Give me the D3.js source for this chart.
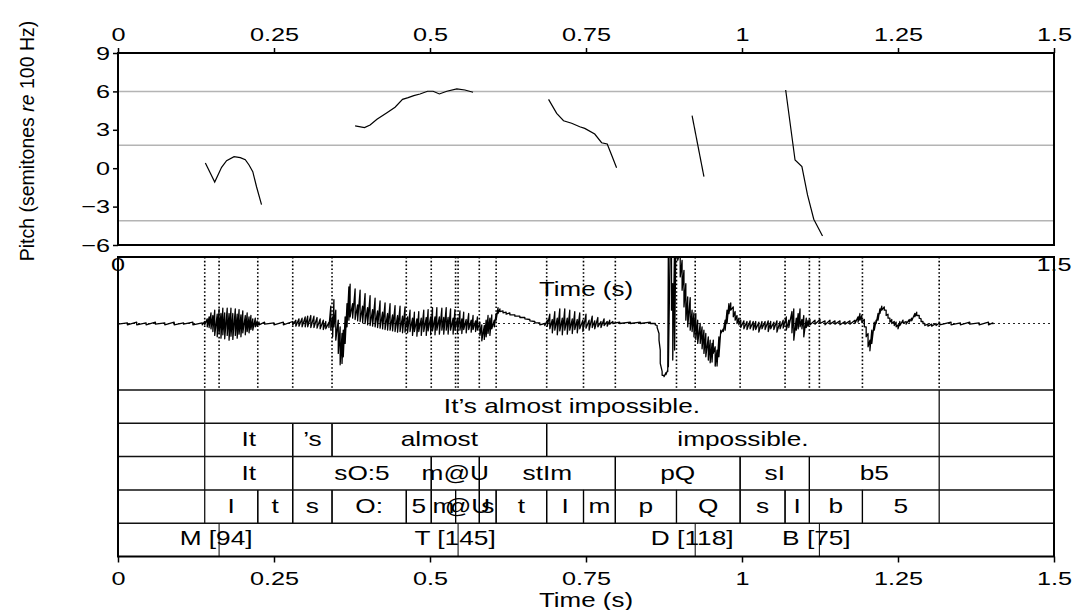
<!DOCTYPE html>
<html>
<head>
<meta charset="utf-8">
<script src="https://cdn.jsdelivr.net/npm/d3@7"></script>
<style>
    body { margin: 0; background: #fff; }
    svg { display: block; font-family: "Liberation Sans", Arial, sans-serif; }
</style>
</head>
<body>
<svg id="chart" width="1074" height="610"></svg>
<script>
// ---- data ----
var timeTicks = [0, 0.25, 0.5, 0.75, 1, 1.25, 1.5];
var pitchTicks = [-6, -3, 0, 3, 6, 9];
var pitchRefs = [6, 1.8, -4.1];

// pitch contour pieces, [time s, semitones re 100 Hz]
var pitchSeg1 = [[0.140, 0.41], [0.155, -1.08], [0.166, 0.07], [0.174, 0.59], [0.186, 0.90], [0.196, 0.82], [0.204, 0.66], [0.210, 0.25], [0.216, -0.27], [0.222, -1.45], [0.230, -2.85]];
var pitchSeg2 = [[0.380, 3.30], [0.395, 3.17], [0.404, 3.38], [0.415, 3.82], [0.431, 4.34], [0.444, 4.76], [0.456, 5.38], [0.465, 5.51], [0.474, 5.67], [0.484, 5.80], [0.496, 6.01], [0.505, 6.01], [0.515, 5.80], [0.527, 6.01], [0.543, 6.19], [0.556, 6.11], [0.569, 5.93]];
var pitchSeg3 = [[0.690, 5.38], [0.703, 4.29], [0.714, 3.71], [0.727, 3.51], [0.740, 3.24], [0.748, 3.11], [0.764, 2.67], [0.775, 1.99], [0.784, 1.89], [0.791, 1.03], [0.799, 0.04]];
var pitchSeg4 = [[0.920, 4.10], [0.939, -0.66]];
var pitchSeg5 = [[1.070, 6.11], [1.085, 0.64], [1.096, 0.12], [1.105, -2.09], [1.115, -3.99], [1.129, -5.30]];

// waveform envelope, [time s, high, low] in relative amplitude
var wave = [
    [0.000, 0.02, -0.01], [0.015, 0.01, -0.02], [0.030, 0.02, -0.02], [0.045, 0.01, -0.02], [0.060, 0.02, -0.01],
    [0.075, 0.01, -0.02], [0.090, 0.02, -0.02], [0.105, 0.01, -0.01], [0.120, 0.02, -0.02], [0.135, 0.01, -0.02],
    [0.139, 0.03, -0.02], [0.143, 0.07, -0.05], [0.146, 0.10, -0.06], [0.149, 0.16, -0.08], [0.152, 0.12, -0.12],
    [0.155, 0.20, -0.18], [0.159, 0.14, -0.20], [0.162, 0.22, -0.15], [0.165, 0.15, -0.22], [0.168, 0.23, -0.17],
    [0.171, 0.16, -0.23], [0.175, 0.23, -0.18], [0.178, 0.15, -0.25], [0.181, 0.23, -0.19], [0.184, 0.15, -0.24],
    [0.188, 0.22, -0.18], [0.191, 0.14, -0.22], [0.194, 0.21, -0.16], [0.197, 0.13, -0.20], [0.200, 0.19, -0.14],
    [0.204, 0.12, -0.17], [0.207, 0.16, -0.12], [0.210, 0.10, -0.14], [0.213, 0.12, -0.09], [0.216, 0.07, -0.10],
    [0.220, 0.08, -0.05], [0.223, 0.04, -0.04], [0.226, 0.02, -0.02], [0.235, 0.02, -0.01], [0.250, 0.01, -0.02],
    [0.265, 0.02, -0.02], [0.280, 0.03, -0.02], [0.285, 0.05, -0.04], [0.290, 0.07, -0.04], [0.295, 0.08, -0.05],
    [0.300, 0.10, -0.05], [0.304, 0.11, -0.05], [0.309, 0.12, -0.06], [0.314, 0.11, -0.06], [0.319, 0.09, -0.07],
    [0.324, 0.07, -0.08], [0.329, 0.05, -0.09], [0.333, 0.03, -0.08], [0.338, 0.02, -0.06],
    [0.341, 0.26, -0.10], [0.344, 0.10, -0.20], [0.346, 0.36, -0.05], [0.349, 0.20, -0.25], [0.353, 0.05, -0.45],
    [0.356, -0.05, -0.62], [0.359, -0.15, -0.60], [0.361, -0.10, -0.50], [0.364, 0.10, -0.30], [0.367, 0.30, -0.05],
    [0.370, 0.55, 0.05], [0.372, 0.59, 0.10], [0.376, 0.30, 0.08], [0.380, 0.52, 0.06], [0.384, 0.28, 0.04],
    [0.388, 0.50, 0.03], [0.392, 0.26, 0.01], [0.396, 0.45, 0.00], [0.400, 0.24, -0.02], [0.404, 0.42, -0.03],
    [0.408, 0.21, -0.04], [0.412, 0.38, -0.05], [0.416, 0.19, -0.06], [0.420, 0.34, -0.07], [0.424, 0.17, -0.08],
    [0.428, 0.31, -0.09], [0.432, 0.15, -0.10], [0.436, 0.30, -0.10], [0.440, 0.13, -0.11], [0.444, 0.27, -0.12],
    [0.448, 0.12, -0.13], [0.452, 0.26, -0.12], [0.456, 0.11, -0.14], [0.460, 0.25, -0.13], [0.464, 0.10, -0.14],
    [0.468, 0.20, -0.12], [0.472, 0.08, -0.18], [0.475, 0.17, -0.12], [0.479, 0.07, -0.19], [0.482, 0.18, -0.12],
    [0.486, 0.08, -0.18], [0.490, 0.20, -0.12], [0.494, 0.09, -0.18], [0.497, 0.21, -0.11], [0.501, 0.10, -0.17],
    [0.504, 0.24, -0.11], [0.508, 0.10, -0.17], [0.511, 0.24, -0.10], [0.515, 0.10, -0.16], [0.519, 0.23, -0.10],
    [0.522, 0.09, -0.16], [0.526, 0.24, -0.10], [0.529, 0.09, -0.16], [0.533, 0.22, -0.10], [0.537, 0.08, -0.16],
    [0.540, 0.21, -0.10], [0.544, 0.08, -0.15], [0.548, 0.19, -0.10], [0.551, 0.07, -0.15], [0.554, 0.17, -0.09],
    [0.558, 0.06, -0.14], [0.562, 0.15, -0.09], [0.566, 0.05, -0.13], [0.569, 0.12, -0.09], [0.573, 0.04, -0.12],
    [0.576, 0.10, -0.10], [0.580, 0.02, -0.18], [0.583, -0.02, -0.26], [0.587, -0.03, -0.24], [0.590, 0.05, -0.20],
    [0.593, 0.12, -0.15], [0.596, 0.08, -0.18], [0.599, 0.13, -0.08], [0.603, 0.05, -0.05], [0.606, 0.15, 0.05],
    [0.609, 0.24, 0.15], [0.612, 0.22, 0.18], [0.617, 0.19, 0.16], [0.622, 0.17, 0.14], [0.628, 0.16, 0.13],
    [0.636, 0.13, 0.11], [0.644, 0.11, 0.09], [0.652, 0.09, 0.07], [0.660, 0.06, 0.04], [0.668, 0.03, 0.01],
    [0.676, 0.01, -0.02], [0.684, 0.00, -0.03],
    [0.688, 0.05, -0.04], [0.692, 0.14, -0.08], [0.696, 0.06, -0.14], [0.700, 0.18, -0.10], [0.704, 0.08, -0.17],
    [0.708, 0.22, -0.11], [0.712, 0.08, -0.17], [0.716, 0.22, -0.10], [0.720, 0.08, -0.16], [0.724, 0.20, -0.10],
    [0.728, 0.07, -0.15], [0.732, 0.18, -0.09], [0.736, 0.06, -0.14], [0.740, 0.16, -0.08], [0.745, 0.05, -0.12],
    [0.750, 0.14, -0.07], [0.755, 0.05, -0.10], [0.760, 0.11, -0.06], [0.764, 0.04, -0.08], [0.769, 0.09, -0.05],
    [0.774, 0.03, -0.06], [0.779, 0.07, -0.03], [0.784, 0.03, -0.04], [0.788, 0.05, -0.01], [0.793, 0.03, 0.00],
    [0.804, 0.02, 0.00], [0.821, 0.02, 0.00], [0.837, 0.02, 0.00], [0.853, 0.02, 0.00], [0.861, 0.00, -0.02],
    [0.864, -0.03, -0.06], [0.867, -0.15, -0.25], [0.869, -0.40, -0.60], [0.872, -0.72, -0.78], [0.875, -0.78, -0.80],
    [0.878, -0.74, -0.77], [0.881, -0.70, -0.72], [0.882, 1.20, -0.65], [0.885, 1.20, 1.00], [0.887, 1.20, 0.20],
    [0.889, 0.60, -0.55], [0.892, 1.20, -0.40], [0.894, 1.20, 1.00], [0.897, 1.20, 0.95], [0.901, 1.10, 0.70],
    [0.904, 0.95, 0.50], [0.907, 0.80, 0.25], [0.910, 0.60, 0.05], [0.913, 0.40, -0.05], [0.917, 0.39, -0.10],
    [0.920, 0.20, -0.12], [0.923, 0.16, -0.20], [0.926, 0.15, -0.24], [0.929, 0.05, -0.30], [0.933, 0.00, -0.30],
    [0.936, -0.05, -0.38], [0.939, -0.10, -0.45], [0.942, -0.15, -0.50], [0.946, -0.20, -0.55], [0.949, -0.25, -0.59],
    [0.952, -0.30, -0.58], [0.954, -0.25, -0.45], [0.957, -0.35, -0.64], [0.960, -0.40, -0.64], [0.963, -0.20, -0.50],
    [0.966, -0.10, -0.15], [0.970, -0.08, -0.12], [0.973, 0.05, -0.10], [0.976, 0.20, 0.00], [0.979, 0.30, 0.15],
    [0.982, 0.31, 0.20], [0.986, 0.25, 0.10], [0.989, 0.18, 0.05], [0.992, 0.12, 0.00], [0.995, 0.08, -0.02],
    [0.998, 0.05, -0.06], [1.003, 0.04, -0.08], [1.008, 0.03, -0.09], [1.013, 0.04, -0.08], [1.018, 0.03, -0.10],
    [1.022, 0.03, -0.09], [1.027, 0.02, -0.13], [1.032, 0.03, -0.08], [1.037, 0.03, -0.09], [1.042, 0.04, -0.12],
    [1.046, 0.03, -0.08], [1.051, 0.02, -0.09], [1.056, 0.04, -0.13], [1.061, 0.03, -0.08], [1.066, 0.05, -0.07],
    [1.071, 0.10, -0.10], [1.075, 0.05, -0.06], [1.080, 0.18, -0.14], [1.083, 0.22, -0.25], [1.087, 0.08, -0.10],
    [1.090, 0.15, -0.08], [1.093, 0.22, -0.05], [1.096, 0.06, -0.08], [1.099, 0.12, -0.20], [1.103, 0.08, -0.06],
    [1.106, 0.05, -0.04], [1.109, 0.06, -0.02], [1.117, 0.05, -0.01], [1.125, 0.06, 0.00], [1.133, 0.04, -0.02],
    [1.141, 0.05, -0.01], [1.149, 0.04, -0.01], [1.157, 0.04, -0.02], [1.165, 0.03, -0.01], [1.173, 0.04, -0.01],
    [1.181, 0.05, 0.00], [1.186, 0.10, 0.02], [1.189, 0.15, 0.05], [1.192, 0.12, 0.02], [1.196, 0.06, -0.05],
    [1.199, -0.05, -0.20], [1.202, -0.15, -0.35], [1.205, -0.25, -0.41], [1.208, -0.10, -0.30], [1.212, 0.02, -0.10],
    [1.215, 0.05, 0.00], [1.218, 0.15, 0.05], [1.221, 0.22, 0.15], [1.224, 0.26, 0.20], [1.228, 0.25, 0.20],
    [1.231, 0.20, 0.12], [1.234, 0.14, 0.08], [1.237, 0.08, 0.02], [1.240, 0.06, 0.00], [1.244, 0.03, -0.03],
    [1.247, 0.02, -0.05], [1.250, -0.02, -0.08], [1.253, 0.03, -0.03], [1.258, 0.05, 0.01], [1.263, 0.03, -0.01],
    [1.268, 0.06, 0.02], [1.272, 0.08, 0.04], [1.277, 0.15, 0.10], [1.280, 0.17, 0.12], [1.284, 0.12, 0.08],
    [1.287, 0.07, 0.03], [1.290, 0.03, 0.00], [1.293, 0.00, -0.03], [1.298, -0.01, -0.04], [1.304, -0.01, -0.04],
    [1.311, 0.00, -0.03], [1.317, 0.01, -0.02], [1.335, 0.02, -0.02], [1.350, 0.01, -0.02], [1.365, 0.02, -0.01],
    [1.380, 0.01, -0.02], [1.395, 0.02, -0.02], [1.402, 0.01, -0.01]
];

// annotation tiers, [start s, end s, label]
var sentenceTier = [[0.139, 1.316, "It\u2019s almost impossible."]];
var wordTier = [[0.139, 0.280, "It"], [0.280, 0.343, "\u2019s"], [0.343, 0.687, "almost"], [0.687, 1.316, "impossible."]];
var syllableTier = [[0.139, 0.280, "It"], [0.280, 0.502, "sO:5"], [0.502, 0.579, "m@U"], [0.579, 0.797, "stIm"],
    [0.797, 0.997, "pQ"], [0.997, 1.108, "sI"], [1.108, 1.316, "b5"]];
var phoneTier = [[0.139, 0.224, "I"], [0.224, 0.280, "t"], [0.280, 0.343, "s"], [0.343, 0.462, "O:"], [0.462, 0.502, "5"],
    [0.502, 0.541, "m"], [0.541, 0.579, "@U"], [0.579, 0.606, "s"], [0.606, 0.687, "t"], [0.687, 0.746, "I"],
    [0.746, 0.797, "m"], [0.797, 0.895, "p"], [0.895, 0.997, "Q"], [0.997, 1.069, "s"], [1.069, 1.108, "I"],
    [1.108, 1.193, "b"], [1.193, 1.316, "5"]];
// point tier, [time s, label]
var toneTier = [[0.162, "M [94]"], [0.545, "T [145]"], [0.925, "D [118]"], [1.124, "B [75]"]];

// ---- layout ----
var L = 118, R = 1054;
var pTop = 53, pBot = 245;
var wTop = 257, wBot = 390;
var tierH = 33.3;
var axisY = wBot + tierH * 5;

var svg = d3.select("#chart");

var x = d3.scaleLinear().domain([0, 1.5]).range([L, R]);
var yP = d3.scaleLinear().domain([-6, 9]).range([pBot, pTop]);
var yW = d3.scaleLinear().domain([-1, 1]).range([wBot, wTop]);

function txt(g, px, py, s, size, sx, anchor) {
    return g.append("text")
        .attr("transform", "translate(" + px + "," + py + ") scale(" + sx + ",1)")
        .attr("text-anchor", anchor || "middle")
        .style("font-size", size + "px")
        .attr("fill", "#000")
        .text(s);
}

function styleAxis(g, size) {
    g.select(".domain").remove();
    g.selectAll(".tick line").attr("stroke", "#000").attr("stroke-width", 1.5);
    g.selectAll(".tick text").style("font-size", size + "px").attr("fill", "#000")
        .style("font-family", "'Liberation Sans', Arial, sans-serif");
}

// ---- pitch panel ----
var pitch = svg.append("g");

pitch.selectAll("line.ref")
    .data(pitchRefs)
    .enter()
    .append("line")
    .attr("x1", L).attr("x2", R)
    .attr("y1", function (d) { return yP(d); })
    .attr("y2", function (d) { return yP(d); })
    .attr("stroke", "#b4b4b4")
    .attr("stroke-width", 1.5);

var pline = d3.line()
    .x(function (d) { return x(d[0]); })
    .y(function (d) { return yP(d[1]); });

pitch.selectAll("path.f0")
    .data([pitchSeg1, pitchSeg2, pitchSeg3, pitchSeg4, pitchSeg5])
    .enter()
    .append("path")
    .attr("d", pline)
    .attr("fill", "none")
    .attr("stroke", "#000")
    .attr("stroke-width", 1.2);

var topAxis = pitch.append("g")
    .attr("transform", "translate(0," + pTop + ")")
    .call(d3.axisTop(x).tickValues(timeTicks).tickFormat(d3.format("")).tickSize(5));
styleAxis(topAxis, 19);
topAxis.selectAll(".tick text").attr("y", null).attr("dy", null)
    .attr("transform", "translate(0,-12) scale(1.33,1)");

var leftAxis = pitch.append("g")
    .attr("transform", "translate(" + L + ",0)")
    .call(d3.axisLeft(yP).tickValues(pitchTicks).tickFormat(d3.format("")).tickSize(5));
styleAxis(leftAxis, 19);
leftAxis.selectAll(".tick text").attr("x", null)
    .attr("transform", "translate(-8,0) scale(1.33,1)");

pitch.append("rect")
    .attr("x", L).attr("y", pTop)
    .attr("width", R - L).attr("height", pBot - pTop)
    .attr("fill", "none")
    .attr("stroke", "#000")
    .attr("stroke-width", 2);

// y title
var yt = svg.append("text")
    .attr("transform", "translate(34," + ((pTop + pBot) / 2 - 8) + ") rotate(-90)")
    .attr("text-anchor", "middle")
    .style("font-size", "19.5px");
yt.append("tspan").text("Pitch (semitones ");
yt.append("tspan").style("font-style", "italic").text("re");
yt.append("tspan").text(" 100 Hz)");

// ---- waveform panel ----
var wav = svg.append("g");

svg.append("clipPath").attr("id", "wclip")
    .append("rect")
    .attr("x", L).attr("y", wTop)
    .attr("width", R - L).attr("height", wBot - wTop);

// boundary times: phone boundaries plus tone marks
var bounds = [];
phoneTier.forEach(function (p) { bounds.push(p[0]); });
bounds.push(phoneTier[phoneTier.length - 1][1]);
toneTier.forEach(function (p) { bounds.push(p[0]); });

wav.selectAll("line.bound")
    .data(bounds)
    .enter()
    .append("line")
    .attr("x1", function (d) { return x(d); })
    .attr("x2", function (d) { return x(d); })
    .attr("y1", wTop).attr("y2", wBot)
    .attr("stroke", "#000")
    .attr("stroke-width", 1.6)
    .attr("stroke-dasharray", "1.6,2.2");

wav.append("line")
    .attr("x1", L).attr("x2", R)
    .attr("y1", yW(0)).attr("y2", yW(0))
    .attr("stroke", "#222")
    .attr("stroke-width", 1)
    .attr("stroke-dasharray", "2,3");

var pts = [];
wave.forEach(function (w) {
    pts.push([w[0], w[1]]);
    pts.push([w[0], w[2]]);
});

var wline = d3.line()
    .x(function (d) { return x(d[0]); })
    .y(function (d) { return yW(d[1]); });

wav.append("path")
    .datum(pts)
    .attr("clip-path", "url(#wclip)")
    .attr("d", wline)
    .attr("fill", "none")
    .attr("stroke", "#000")
    .attr("stroke-width", 1.3)
    .attr("stroke-linejoin", "round");

txt(wav, x(0), wTop + 14, "0", 19, 1.33);
txt(wav, x(1.5), wTop + 14, "1.5", 19, 1.33);
txt(wav, (L + R) / 2, wTop + 39, "Time (s)", 19.5, 1.33);

// ---- tiers ----
var tiers = svg.append("g");
[sentenceTier, wordTier, syllableTier, phoneTier].forEach(function (tier, i) {
    var top = wBot + i * tierH;
    var g = tiers.append("g");
    g.selectAll("line")
        .data(tier.reduce(function (a, d) { a.push(d[0], d[1]); return a; }, []))
        .enter()
        .append("line")
        .attr("x1", function (d) { return x(d); })
        .attr("x2", function (d) { return x(d); })
        .attr("y1", top).attr("y2", top + tierH)
        .attr("stroke", "#000")
        .attr("stroke-width", 1.2);
    tier.forEach(function (d) {
        txt(g, x((d[0] + d[1]) / 2), top + 23, d[2], 21, 1.25);
    });
});

var toneTop = wBot + 4 * tierH;
tiers.selectAll("line.tone")
    .data(toneTier)
    .enter()
    .append("line")
    .attr("x1", function (d) { return x(d[0]); })
    .attr("x2", function (d) { return x(d[0]); })
    .attr("y1", toneTop).attr("y2", axisY)
    .attr("stroke", "#000")
    .attr("stroke-width", 1);
toneTier.forEach(function (d) {
    txt(tiers, x(d[0]) - 3, toneTop + 22, d[1], 21, 1.25);
});

// tier separators
tiers.selectAll("line.sep")
    .data([0, 1, 2, 3, 4])
    .enter()
    .append("line")
    .attr("x1", L).attr("x2", R)
    .attr("y1", function (d) { return wBot + d * tierH; })
    .attr("y2", function (d) { return wBot + d * tierH; })
    .attr("stroke", "#111")
    .attr("stroke-width", 1.5);

// frame of lower panel
svg.append("rect")
    .attr("x", L).attr("y", wTop)
    .attr("width", R - L).attr("height", axisY - wTop)
    .attr("fill", "none")
    .attr("stroke", "#000")
    .attr("stroke-width", 2);

var botAxis = svg.append("g")
    .attr("transform", "translate(0," + axisY + ")")
    .call(d3.axisBottom(x).tickValues(timeTicks).tickFormat(d3.format("")).tickSize(6));
styleAxis(botAxis, 19);
botAxis.selectAll(".tick text").attr("y", null).attr("dy", null)
    .attr("transform", "translate(0,28) scale(1.33,1)");

txt(svg, (L + R) / 2, 607, "Time (s)", 19.5, 1.33);
</script>
</body>
</html>
